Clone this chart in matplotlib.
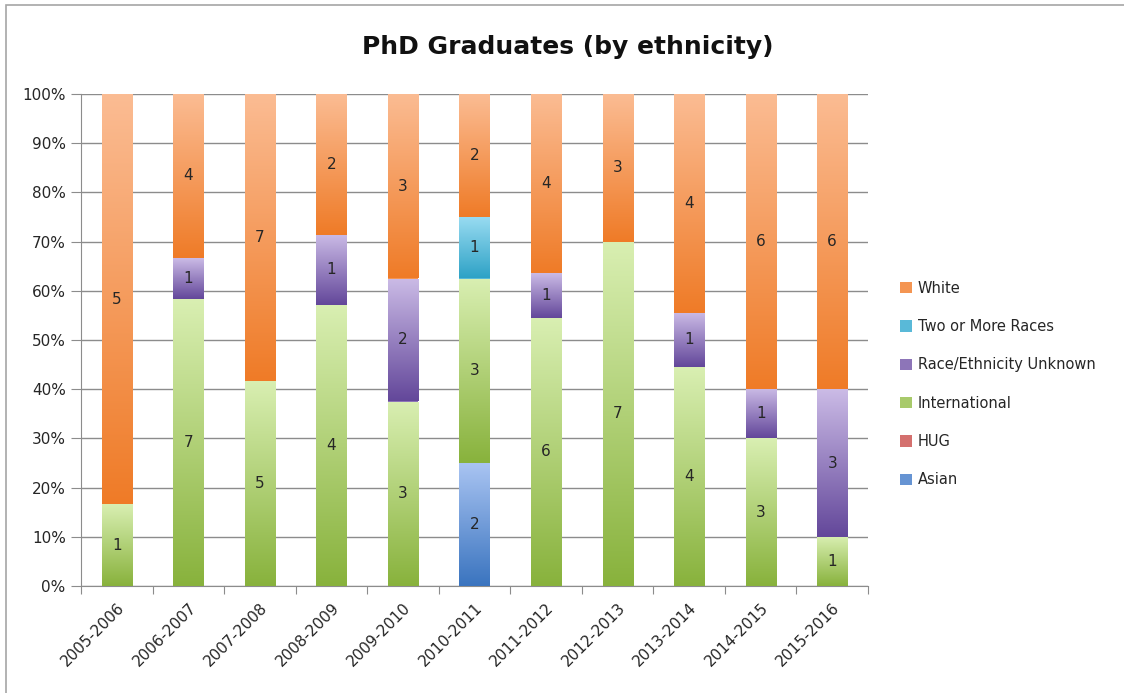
import numpy as np
import matplotlib
matplotlib.use('Agg')
import matplotlib.pyplot as plt
from matplotlib.colors import LinearSegmentedColormap
from matplotlib.patches import Rectangle

plt.rcParams['font.family'] = ['DejaVu Sans']

years = ['2005-2006', '2006-2007', '2007-2008', '2008-2009', '2009-2010', '2010-2011',
         '2011-2012', '2012-2013', '2013-2014', '2014-2015', '2015-2016']

# head counts per group, stacked bottom to top
asian         = [0, 0, 0, 0, 0, 2, 0, 0, 0, 0, 0]
hug           = [0, 0, 0, 0, 0, 0, 0, 0, 0, 0, 0]
international = [1, 7, 5, 4, 3, 3, 6, 7, 4, 3, 1]
unknown       = [0, 1, 0, 1, 2, 0, 1, 0, 1, 1, 3]
two_or_more   = [0, 0, 0, 0, 0, 1, 0, 0, 0, 0, 0]
white         = [5, 4, 7, 2, 3, 2, 4, 3, 4, 6, 6]

groups = ['Asian', 'HUG', 'International', 'Race/Ethnicity Unknown', 'Two or More Races', 'White']
counts = [asian, hug, international, unknown, two_or_more, white]
# (top colour, bottom colour) for each group's gradient
shades = [('#a9c4f2', '#3a74bf'),
          ('#f2a0a0', '#c0504d'),
          ('#d9efb2', '#88b23c'),
          ('#cbbbe6', '#63479a'),
          ('#9adcf2', '#2ea2c6'),
          ('#fbbc93', '#ef7b27')]

data = np.array(counts, dtype=float)
pct = data / data.sum(axis=0) * 100

fig = plt.figure(figsize=(11.24, 6.93), dpi=100)
fig.patches.append(Rectangle((6 / 1124, -0.1), 1.2, 1.1 - 5 / 693, transform=fig.transFigure,
                             fill=False, edgecolor='#a6a6a6', lw=1.2))
ax = fig.add_axes([81 / 1124, 1 - 586 / 693, 787 / 1124, 492 / 693])

x = np.arange(len(years))
width = 0.42
grad = np.linspace(0, 1, 256).reshape(-1, 1)
bottom = np.zeros(len(years))
handles = []
for name, vals, raw, (c_top, c_bot) in zip(groups, pct, counts, shades):
    cmap = LinearSegmentedColormap.from_list(name, [c_top, c_bot])
    bars = ax.bar(x, vals, width, bottom=bottom, color=cmap(0.6), label=name, zorder=2, lw=0)
    handles.append(bars)
    for bar, n in zip(bars, raw):
        if n == 0:
            continue
        bx, by = bar.get_x(), bar.get_y()
        img = ax.imshow(grad, cmap=cmap, aspect='auto', zorder=3, origin='upper',
                        extent=(bx, bx + bar.get_width(), by, by + bar.get_height()))
        img.set_clip_path(bar)
        ax.text(bar.get_x() + bar.get_width() / 2, by + bar.get_height() / 2, str(n),
                ha='center', va='center', fontsize=11, color='#262626', zorder=4)
    bottom += vals

ax.set_xlim(-0.5, len(years) - 0.5)
ax.set_ylim(0, 100)
ax.set_yticks(np.arange(0, 101, 10))
ax.set_yticklabels([f'{v}%' for v in range(0, 101, 10)])
ax.yaxis.grid(True, color='#8c8c8c', lw=1, zorder=0)
ax.set_axisbelow(True)
ax.set_xticks(np.arange(-0.5, len(years) + 0.5, 1))
ax.set_xticks(x, minor=True)
ax.set_xticklabels([])
ax.set_xticklabels(years, minor=True, rotation=45, ha='right', va='top', rotation_mode='anchor')
ax.tick_params(axis='x', which='major', length=6, color='#8c8c8c', direction='out')
ax.tick_params(axis='x', which='minor', length=0, pad=10, labelsize=11, labelcolor='#262626')
ax.tick_params(axis='y', length=7, color='#8c8c8c', labelsize=11, labelcolor='#262626', pad=4)
for side in ['top', 'right']:
    ax.spines[side].set_visible(False)
for side in ['left', 'bottom']:
    ax.spines[side].set_color('#8c8c8c')

fig.text(568 / 1124, 1 - 47 / 693, 'PhD Graduates (by ethnicity)', ha='center', va='center',
         fontsize=18, fontweight='bold', color='#111111')

ax.legend(handles[::-1], groups[::-1], loc='center left', bbox_to_anchor=(887 / 1124, 1 - 384 / 693),
          bbox_transform=fig.transFigure, frameon=False, fontsize=10.5, handlelength=0.8,
          handleheight=0.8, handletextpad=0.4, labelspacing=1.6, labelcolor='#262626')

fig.savefig('out.png', dpi=100)
